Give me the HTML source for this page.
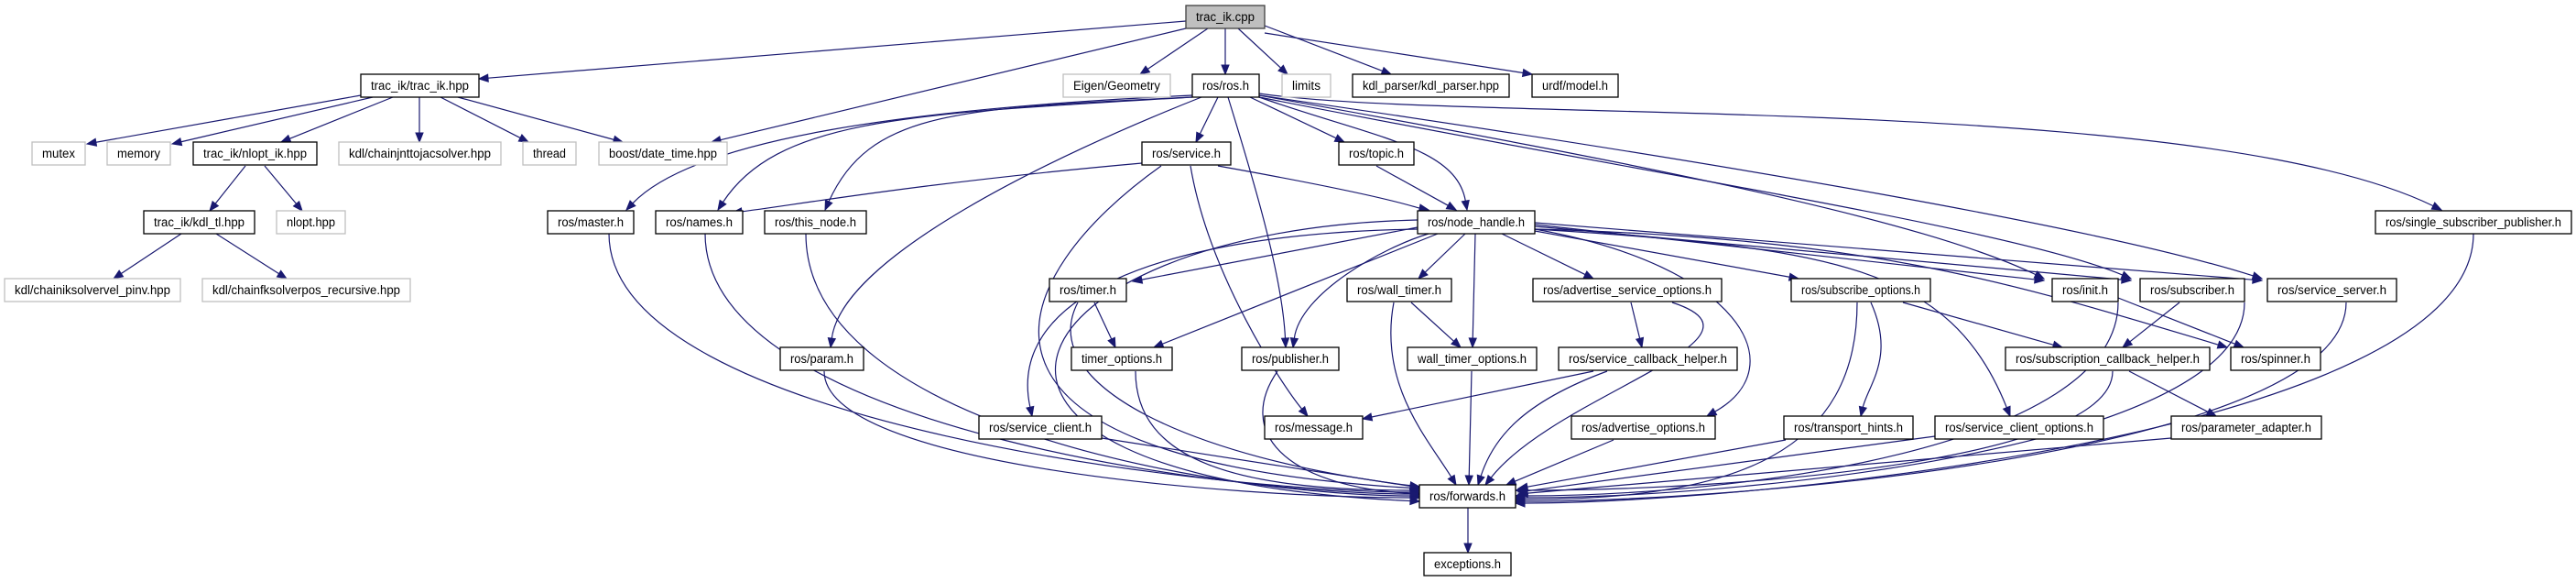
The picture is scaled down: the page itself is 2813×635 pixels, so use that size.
<!DOCTYPE html>
<html><head><meta charset="utf-8"><style>
html,body{margin:0;padding:0;background:#fff;}
svg{display:block;}
text{font-family:"Liberation Sans",sans-serif;font-size:13.5px;fill:#000;}
</style></head><body>
<svg id="g" width="2813" height="635" viewBox="0 0 2813 635" xmlns="http://www.w3.org/2000/svg">
<g id="edges" fill="none" stroke="#191970" stroke-width="1.2"></g>
<g id="heads" fill="#191970" stroke="#191970" stroke-width="1"></g>
<g id="nodes">
<rect x="1295" y="6" width="86" height="25" fill="#bfbfbf" stroke="#404040" stroke-width="1.3"/><text x="1338" y="23" text-anchor="middle" textLength="64" lengthAdjust="spacingAndGlyphs">trac_ik.cpp</text>
<rect x="394" y="81" width="129" height="25" fill="#fff" stroke="#000" stroke-width="1.3"/><text x="458.5" y="98" text-anchor="middle" textLength="107" lengthAdjust="spacingAndGlyphs">trac_ik/trac_ik.hpp</text>
<rect x="1161" y="81" width="117" height="25" fill="#fff" stroke="#bfbfbf" stroke-width="1.3"/><text x="1219.5" y="98" text-anchor="middle" textLength="95" lengthAdjust="spacingAndGlyphs">Eigen/Geometry</text>
<rect x="1302" y="81" width="73" height="25" fill="#fff" stroke="#000" stroke-width="1.3"/><text x="1338.5" y="98" text-anchor="middle" textLength="51" lengthAdjust="spacingAndGlyphs">ros/ros.h</text>
<rect x="1400" y="81" width="53" height="25" fill="#fff" stroke="#bfbfbf" stroke-width="1.3"/><text x="1426.5" y="98" text-anchor="middle" textLength="31" lengthAdjust="spacingAndGlyphs">limits</text>
<rect x="1477" y="81" width="171" height="25" fill="#fff" stroke="#000" stroke-width="1.3"/><text x="1562.5" y="98" text-anchor="middle" textLength="149" lengthAdjust="spacingAndGlyphs">kdl_parser/kdl_parser.hpp</text>
<rect x="1673" y="81" width="94" height="25" fill="#fff" stroke="#000" stroke-width="1.3"/><text x="1720" y="98" text-anchor="middle" textLength="72" lengthAdjust="spacingAndGlyphs">urdf/model.h</text>
<rect x="35" y="155" width="58" height="25" fill="#fff" stroke="#bfbfbf" stroke-width="1.3"/><text x="64" y="172" text-anchor="middle" textLength="36" lengthAdjust="spacingAndGlyphs">mutex</text>
<rect x="117" y="155" width="69" height="25" fill="#fff" stroke="#bfbfbf" stroke-width="1.3"/><text x="151.5" y="172" text-anchor="middle" textLength="47" lengthAdjust="spacingAndGlyphs">memory</text>
<rect x="211" y="155" width="135" height="25" fill="#fff" stroke="#000" stroke-width="1.3"/><text x="278.5" y="172" text-anchor="middle" textLength="113" lengthAdjust="spacingAndGlyphs">trac_ik/nlopt_ik.hpp</text>
<rect x="370" y="155" width="177" height="25" fill="#fff" stroke="#bfbfbf" stroke-width="1.3"/><text x="458.5" y="172" text-anchor="middle" textLength="155" lengthAdjust="spacingAndGlyphs">kdl/chainjnttojacsolver.hpp</text>
<rect x="571" y="155" width="58" height="25" fill="#fff" stroke="#bfbfbf" stroke-width="1.3"/><text x="600" y="172" text-anchor="middle" textLength="36" lengthAdjust="spacingAndGlyphs">thread</text>
<rect x="654" y="155" width="140" height="25" fill="#fff" stroke="#bfbfbf" stroke-width="1.3"/><text x="724" y="172" text-anchor="middle" textLength="118" lengthAdjust="spacingAndGlyphs">boost/date_time.hpp</text>
<rect x="1247" y="155" width="97" height="25" fill="#fff" stroke="#000" stroke-width="1.3"/><text x="1295.5" y="172" text-anchor="middle" textLength="75" lengthAdjust="spacingAndGlyphs">ros/service.h</text>
<rect x="1462" y="155" width="82" height="25" fill="#fff" stroke="#000" stroke-width="1.3"/><text x="1503" y="172" text-anchor="middle" textLength="60" lengthAdjust="spacingAndGlyphs">ros/topic.h</text>
<rect x="157" y="230" width="121" height="25" fill="#fff" stroke="#000" stroke-width="1.3"/><text x="217.5" y="247" text-anchor="middle" textLength="99" lengthAdjust="spacingAndGlyphs">trac_ik/kdl_tl.hpp</text>
<rect x="302" y="230" width="75" height="25" fill="#fff" stroke="#bfbfbf" stroke-width="1.3"/><text x="339.5" y="247" text-anchor="middle" textLength="53" lengthAdjust="spacingAndGlyphs">nlopt.hpp</text>
<rect x="598" y="230" width="94" height="25" fill="#fff" stroke="#000" stroke-width="1.3"/><text x="645" y="247" text-anchor="middle" textLength="72" lengthAdjust="spacingAndGlyphs">ros/master.h</text>
<rect x="716" y="230" width="95" height="25" fill="#fff" stroke="#000" stroke-width="1.3"/><text x="763.5" y="247" text-anchor="middle" textLength="73" lengthAdjust="spacingAndGlyphs">ros/names.h</text>
<rect x="835" y="230" width="111" height="25" fill="#fff" stroke="#000" stroke-width="1.3"/><text x="890.5" y="247" text-anchor="middle" textLength="89" lengthAdjust="spacingAndGlyphs">ros/this_node.h</text>
<rect x="1548" y="230" width="128" height="25" fill="#fff" stroke="#000" stroke-width="1.3"/><text x="1612" y="247" text-anchor="middle" textLength="106" lengthAdjust="spacingAndGlyphs">ros/node_handle.h</text>
<rect x="2594" y="230" width="214" height="25" fill="#fff" stroke="#000" stroke-width="1.3"/><text x="2701" y="247" text-anchor="middle" textLength="192" lengthAdjust="spacingAndGlyphs">ros/single_subscriber_publisher.h</text>
<rect x="5" y="304" width="192" height="25" fill="#fff" stroke="#bfbfbf" stroke-width="1.3"/><text x="101" y="321" text-anchor="middle" textLength="170" lengthAdjust="spacingAndGlyphs">kdl/chainiksolvervel_pinv.hpp</text>
<rect x="221" y="304" width="227" height="25" fill="#fff" stroke="#bfbfbf" stroke-width="1.3"/><text x="334.5" y="321" text-anchor="middle" textLength="205" lengthAdjust="spacingAndGlyphs">kdl/chainfksolverpos_recursive.hpp</text>
<rect x="1146" y="304" width="84" height="25" fill="#fff" stroke="#000" stroke-width="1.3"/><text x="1188" y="321" text-anchor="middle" textLength="62" lengthAdjust="spacingAndGlyphs">ros/timer.h</text>
<rect x="1471" y="304" width="114" height="25" fill="#fff" stroke="#000" stroke-width="1.3"/><text x="1528" y="321" text-anchor="middle" textLength="92" lengthAdjust="spacingAndGlyphs">ros/wall_timer.h</text>
<rect x="1674" y="304" width="206" height="25" fill="#fff" stroke="#000" stroke-width="1.3"/><text x="1777" y="321" text-anchor="middle" textLength="184" lengthAdjust="spacingAndGlyphs">ros/advertise_service_options.h</text>
<rect x="1956" y="304" width="152" height="25" fill="#fff" stroke="#000" stroke-width="1.3"/><text x="2032" y="321" text-anchor="middle" textLength="130" lengthAdjust="spacingAndGlyphs">ros/subscribe_options.h</text>
<rect x="2241" y="304" width="72" height="25" fill="#fff" stroke="#000" stroke-width="1.3"/><text x="2277" y="321" text-anchor="middle" textLength="50" lengthAdjust="spacingAndGlyphs">ros/init.h</text>
<rect x="2337" y="304" width="114" height="25" fill="#fff" stroke="#000" stroke-width="1.3"/><text x="2394" y="321" text-anchor="middle" textLength="92" lengthAdjust="spacingAndGlyphs">ros/subscriber.h</text>
<rect x="2476" y="304" width="141" height="25" fill="#fff" stroke="#000" stroke-width="1.3"/><text x="2546.5" y="321" text-anchor="middle" textLength="119" lengthAdjust="spacingAndGlyphs">ros/service_server.h</text>
<rect x="852" y="379" width="91" height="25" fill="#fff" stroke="#000" stroke-width="1.3"/><text x="897.5" y="396" text-anchor="middle" textLength="69" lengthAdjust="spacingAndGlyphs">ros/param.h</text>
<rect x="1170" y="379" width="110" height="25" fill="#fff" stroke="#000" stroke-width="1.3"/><text x="1225" y="396" text-anchor="middle" textLength="88" lengthAdjust="spacingAndGlyphs">timer_options.h</text>
<rect x="1356" y="379" width="106" height="25" fill="#fff" stroke="#000" stroke-width="1.3"/><text x="1409" y="396" text-anchor="middle" textLength="84" lengthAdjust="spacingAndGlyphs">ros/publisher.h</text>
<rect x="1537" y="379" width="141" height="25" fill="#fff" stroke="#000" stroke-width="1.3"/><text x="1607.5" y="396" text-anchor="middle" textLength="119" lengthAdjust="spacingAndGlyphs">wall_timer_options.h</text>
<rect x="1702" y="379" width="195" height="25" fill="#fff" stroke="#000" stroke-width="1.3"/><text x="1799.5" y="396" text-anchor="middle" textLength="173" lengthAdjust="spacingAndGlyphs">ros/service_callback_helper.h</text>
<rect x="2190" y="379" width="223" height="25" fill="#fff" stroke="#000" stroke-width="1.3"/><text x="2301.5" y="396" text-anchor="middle" textLength="201" lengthAdjust="spacingAndGlyphs">ros/subscription_callback_helper.h</text>
<rect x="2436" y="379" width="98" height="25" fill="#fff" stroke="#000" stroke-width="1.3"/><text x="2485" y="396" text-anchor="middle" textLength="76" lengthAdjust="spacingAndGlyphs">ros/spinner.h</text>
<rect x="1069" y="454" width="134" height="25" fill="#fff" stroke="#000" stroke-width="1.3"/><text x="1136" y="471" text-anchor="middle" textLength="112" lengthAdjust="spacingAndGlyphs">ros/service_client.h</text>
<rect x="1381" y="454" width="107" height="25" fill="#fff" stroke="#000" stroke-width="1.3"/><text x="1434.5" y="471" text-anchor="middle" textLength="85" lengthAdjust="spacingAndGlyphs">ros/message.h</text>
<rect x="1716" y="454" width="157" height="25" fill="#fff" stroke="#000" stroke-width="1.3"/><text x="1794.5" y="471" text-anchor="middle" textLength="135" lengthAdjust="spacingAndGlyphs">ros/advertise_options.h</text>
<rect x="1948" y="454" width="141" height="25" fill="#fff" stroke="#000" stroke-width="1.3"/><text x="2018.5" y="471" text-anchor="middle" textLength="119" lengthAdjust="spacingAndGlyphs">ros/transport_hints.h</text>
<rect x="2113" y="454" width="184" height="25" fill="#fff" stroke="#000" stroke-width="1.3"/><text x="2205" y="471" text-anchor="middle" textLength="162" lengthAdjust="spacingAndGlyphs">ros/service_client_options.h</text>
<rect x="2371" y="454" width="164" height="25" fill="#fff" stroke="#000" stroke-width="1.3"/><text x="2453" y="471" text-anchor="middle" textLength="142" lengthAdjust="spacingAndGlyphs">ros/parameter_adapter.h</text>
<rect x="1550" y="529" width="105" height="25" fill="#fff" stroke="#000" stroke-width="1.3"/><text x="1602.5" y="546" text-anchor="middle" textLength="83" lengthAdjust="spacingAndGlyphs">ros/forwards.h</text>
<rect x="1555" y="603" width="95" height="25" fill="#fff" stroke="#000" stroke-width="1.3"/><text x="1602.5" y="620" text-anchor="middle" textLength="73" lengthAdjust="spacingAndGlyphs">exceptions.h</text>
</g>
</svg>
<script>
(function(){
var E=[
[1295,23,523,86],[1295,31,777,155],[1319,31,1245,81],[1338,31,1338,81],[1352,31,1406,81],[1381,28,1519,81],[1381,36,1673,81],
[394,104,95,157],[407,106,188,157],[429,106,307,155],[458,106,458,155],[481,106,577,155],[500,106,680,155],
[268,181,229,230],[289,181,330,230],[198,255,124,304],[236,255,313,304],
[1302,104,1000,118,760,150,684,229],[1302,106,1000,124,850,128,784,229],[1302,106,1050,118,950,120,901,229],
[1330,106,1306,155],[1312,106,1150,170,920,280,907,379],[1341,106,1370,200,1400,300,1404,379],
[1365,106,1468,155],[1375,106,1500,150,1590,160,1602,229],
[1375,104,1800,180,2100,240,2232,304],[1375,106,1800,190,2200,250,2327,304],[1375,104,1900,180,2300,250,2470,304],
[1375,102,1600,135,2400,100,2666,229],
[1247,178,1000,200,860,225,800,232],[1300,181,1320,300,1400,420,1428,454],[1330,181,1520,215,1540,225,1560,229],
[1503,181,1590,229],
[1548,248,1237,307],[1570,255,1260,379],[1560,255,1510,270,1420,320,1412,379],[1600,255,1549,304],[1611,255,1608,379],
[1640,255,1740,304],[1676,252,1964,304],[1676,250,1900,290,1960,400,1864,454],[1548,250,1250,255,1100,330,1127,454],
[1676,250,2000,270,2130,290,2195,454],[1676,245,2232,306],[1676,247,2327,306],[1676,243,2470,306],
[1676,250,2050,260,2200,310,2432,379],
[1195,330,1218,379],[1541,330,1595,379],[1781,330,1793,379],[1740,405,1488,457],[2043,330,2070,390,2040,420,2032,454],
[2078,330,2252,379],[2313,325,2450,379],[2380,330,2318,379],[2325,405,2420,454],[1603,554,1603,603]
];
function L(sx,sy,ey){return [sx,sy,sx,sy+(ey-sy)*0.75,1350,ey,1550,ey];}
function R(sx,sy,ey){return [sx,sy,sx,sy+(ey-sy)*0.75,1900,ey,1655,ey];}
E.push(L(665,255,537),L(770,255,539),L(880,255,541),L(900,405,543),[1268,181,1100,300,1000,500,1550,533],
[1548,240,1100,250,950,520,1550,547],
[1177,330,1130,420,1300,500,1550,531],L(1240,405,535),[1395,405,1350,470,1400,530,1550,539],[1203,478,1550,532],
[1522,330,1505,420,1560,480,1590,529],[1607,405,1604,529],[1826,330,1950,370,1700,430,1622,529],
[1755,405,1660,440,1630,480,1614,529],[1762,480,1645,529],
R(2028,330,545),[1950,480,1658,533],[2113,476,1658,537],[2371,478,1658,539],
R(2313,330,541),R(2451,330,543),R(2562,330,547),R(2701,255,549),R(2307,405,535));
var ns="http://www.w3.org/2000/svg",ge=document.getElementById("edges"),gh=document.getElementById("heads");
E.forEach(function(p){
 var n=p.length,ex=p[n-2],ey=p[n-1],px=p[n-4],py=p[n-3];
 var dx=ex-px,dy=ey-py,l=Math.sqrt(dx*dx+dy*dy)||1;dx/=l;dy/=l;
 var bx=ex-dx*10,by=ey-dy*10,d;
 if(n==4)d="M"+p[0]+","+p[1]+"L"+bx+","+by;
 else d="M"+p[0]+","+p[1]+"C"+p[2]+","+p[3]+" "+p[4]+","+p[5]+" "+bx+","+by;
 var pa=document.createElementNS(ns,"path");pa.setAttribute("d",d);ge.appendChild(pa);
 var h=document.createElementNS(ns,"polygon");
 h.setAttribute("points",ex+","+ey+" "+(bx-dy*4)+","+(by+dx*4)+" "+(bx+dy*4)+","+(by-dx*4));
 gh.appendChild(h);
});
})();
</script>
</body></html>
